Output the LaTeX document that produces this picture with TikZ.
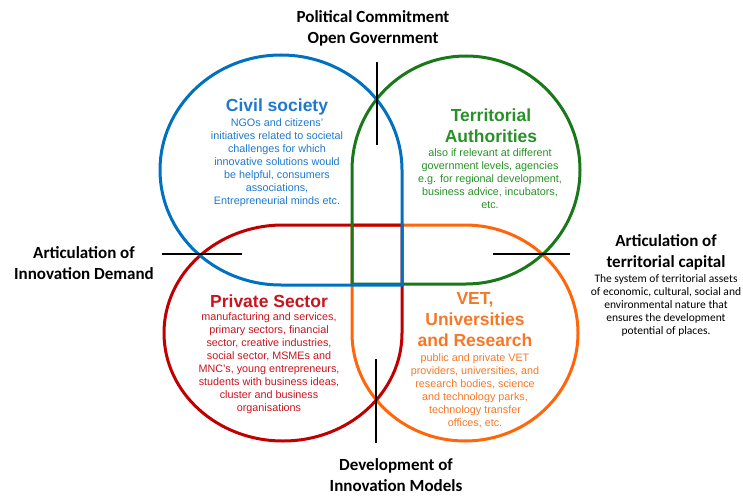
\documentclass[tikz,border=0pt]{standalone}
\usepackage{fontspec}
\setmainfont{Liberation Sans}
\newfontfamily\calibri{Carlito}
\usetikzlibrary{positioning}

\definecolor{civilblue}{RGB}{0,112,192}
\definecolor{civiltext}{RGB}{30,120,205}
\definecolor{authgreen}{RGB}{25,120,25}
\definecolor{authtext}{RGB}{40,145,40}
\definecolor{privred}{RGB}{192,0,0}
\definecolor{privtext}{RGB}{200,20,30}
\definecolor{vetorange}{RGB}{255,102,10}
\definecolor{vettext}{RGB}{245,120,40}

\begin{document}
\begin{tikzpicture}[x=1pt, y=-1pt,
    petal/.style={line width=3pt},
    tick/.style={line width=1.2pt, black},
    headtxt/.style={font=\calibri\bfseries\fontsize{17}{21}\selectfont, align=center, inner sep=0pt},
    petaltitle/.style={font=\bfseries\fontsize{17.5}{21}\selectfont, align=center, inner sep=0pt},
    petaltxt/.style={font=\fontsize{10.8}{13}\selectfont, align=center, inner sep=0pt},
    notetxt/.style={font=\calibri\fontsize{11.5}{13}\selectfont, align=center, inner sep=0pt},
  ]
  \useasboundingbox (0,0) rectangle (743,497);

  % VET, universities and research (square corner top left)
  \draw[petal, vetorange] (352,225) -- (465,225)
    arc[start angle=270, end angle=540, x radius=113, y radius=108] -- cycle;
  % Private sector (square corner top right)
  \draw[petal, privred] (402,225) -- (283,225)
    arc[start angle=270, end angle=0, x radius=119, y radius=108] -- cycle;
  % Territorial authorities (square corner bottom left)
  \draw[petal, authgreen] (352,284) -- (352,170)
    arc[start angle=180, end angle=450, x radius=114, y radius=114] -- cycle;
  % Civil society (square corner bottom right)
  \draw[petal, civilblue] (402,285) -- (402,170)
    arc[start angle=0, end angle=-270, x radius=121, y radius=115] -- cycle;

  % Tick marks on the crossings
  \coordinate (topA) at (377,62);
  \coordinate (topB) at (377,145);
  \coordinate (leftA) at (162,254);
  \coordinate (leftB) at (242,254);
  \coordinate (rightA) at (493,254);
  \coordinate (rightB) at (570,254);
  \coordinate (botA) at (376,359);
  \coordinate (botB) at (376,443);
  \draw[tick] (topA) -- (topB);
  \draw[tick] (leftA) -- (leftB);
  \draw[tick] (rightA) -- (rightB);
  \draw[tick] (botA) -- (botB);

  % Outer headings
  \node[headtxt] (political) at (373,28) {Political Commitment\\Open Government};
  \node[headtxt] (demand) at (84,263) {Articulation of\\Innovation Demand};
  \node[headtxt] (capital) at (666,252) {Articulation of\\territorial capital};
  \node[notetxt, below=4pt of capital] (capitalTxt)
    {The system of territorial assets\\of economic, cultural, social and\\environmental nature that\\ensures the development\\potential of places.};
  \node[headtxt] (models) at (396,475) {Development of\\Innovation Models};

  % Petal texts
  \node[petaltitle, civiltext] (civil) at (277,107) {Civil society};
  \node[petaltxt, civiltext] (civilTxt) at (277,163)
    {NGOs and citizens'\\initiatives related to societal\\challenges  for which\\innovative solutions would\\be helpful,  consumers\\associations,\\Entrepreneurial minds etc.};

  \node[petaltitle, authtext] (auth) at (491,126) {Territorial\\Authorities};
  \node[petaltxt, authtext] (authTxt) at (490,179)
    {also if relevant at different\\government levels, agencies\\e.g. for regional development,\\business advice, incubators,\\etc.};

  \node[petaltitle, privtext] (priv) at (269,301) {Private Sector};
  \node[petaltxt, privtext] (privTxt) at (269,363)
    {manufacturing and services,\\primary sectors, financial\\sector, creative industries,\\social sector, MSMEs and\\MNC's, young entrepreneurs,\\students with business ideas,\\cluster and business\\organisations};

  \node[petaltitle, vettext] (vet) at (475,320) {VET,\\Universities\\and Research};
  \node[petaltxt, vettext] (vetTxt) at (475,391)
    {public  and private VET\\providers, universities, and\\research bodies,  science\\and technology  parks,\\technology  transfer\\offices, etc.};
\end{tikzpicture}
\end{document}
